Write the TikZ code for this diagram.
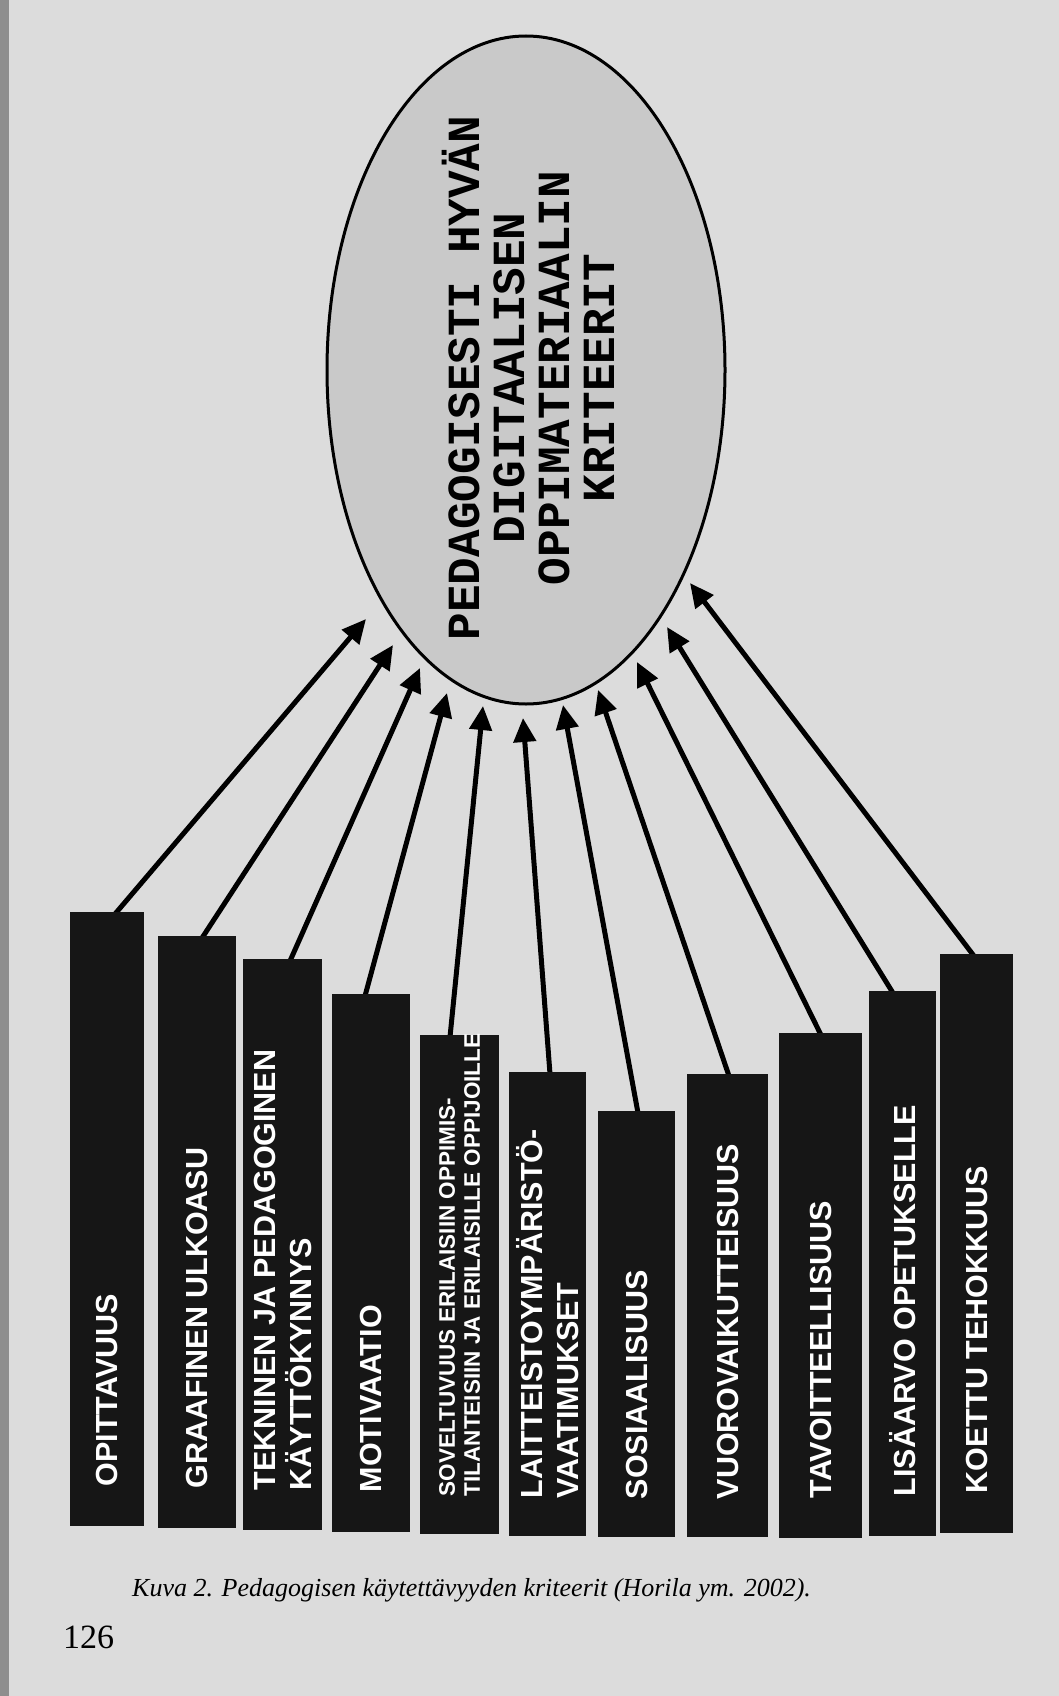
\documentclass[tikz,border=0pt]{standalone}
\usepackage{fontspec}
\setmainfont{Liberation Serif}
\newfontfamily\barfont{Liberation Sans}
\newfontfamily\ellfont{Liberation Mono}
\usetikzlibrary{arrows.meta,shapes.geometric}
\definecolor{pagebg}{HTML}{DCDCDC}
\definecolor{pageedge}{HTML}{8E8E8E}
\definecolor{ellfill}{HTML}{C9C9C9}
\definecolor{barfill}{HTML}{161616}
\tikzset{
  bar/.style={fill=barfill, draw=none, inner sep=0pt, anchor=north west},
  barlabel/.style={rotate=90, anchor=west, inner sep=0pt, text=white,
    font=\barfont\bfseries\fontsize{30.5}{36}\selectfont, align=left},
  smalllabel/.style={barlabel, font=\barfont\bfseries\fontsize{22.5}{25}\selectfont},
  arr/.style={line width=5pt, -{Triangle[length=24pt,width=22pt]}},
  ellbox/.style={ellipse, draw, line width=3pt, fill=ellfill, inner sep=0pt,
    minimum width=398pt, minimum height=668pt},
  elltext/.style={rotate=90, align=center, inner sep=0pt,
    font=\ellfont\bfseries\fontsize{46}{45}\selectfont},
}
\begin{document}
\begin{tikzpicture}[x=1pt,y=-1pt]
\useasboundingbox (0,0) rectangle (1059,1696);
\fill[pagebg] (0,0) rectangle (1059,1696);
\fill[pageedge] (0,0) rectangle (9,1696);

% ellipse
\node[ellbox] (ell) at (526,370) {};
\node[elltext] (ellt) at (528,378) {PEDAGOGISESTI HYVÄN\\DIGITAALISEN\\OPPIMATERIAALIN\\KRITEERIT};

% arrow start and tip coordinates
\coordinate (s1) at (115,914);  \coordinate (t1) at (366,619);
\coordinate (s2) at (202,938);  \coordinate (t2) at (393,645);
\coordinate (s3) at (290,961);  \coordinate (t3) at (420,668);
\coordinate (s4) at (365,996);  \coordinate (t4) at (447,693);
\coordinate (s5) at (450,1037); \coordinate (t5) at (483,706);
\coordinate (s6) at (550,1074); \coordinate (t6) at (523,718);
\coordinate (s7) at (638,1113); \coordinate (t7) at (563,705);
\coordinate (s8) at (729,1076); \coordinate (t8) at (598,690);
\coordinate (s9) at (821,1035); \coordinate (t9) at (637,662);
\coordinate (s10) at (893,993); \coordinate (t10) at (667,627);
\coordinate (s11) at (974,956); \coordinate (t11) at (690,583);

\foreach \i in {1,...,11} { \draw[arr] (s\i) -- (t\i); }

% bars
\node[bar, minimum width=74pt, minimum height=614pt] (b1) at (70,912) {};
\node[bar, minimum width=78pt, minimum height=592pt] (b2) at (158,936) {};
\node[bar, minimum width=79pt, minimum height=571pt] (b3) at (243,959) {};
\node[bar, minimum width=78pt, minimum height=538pt] (b4) at (332,994) {};
\node[bar, minimum width=79pt, minimum height=499pt] (b5) at (420,1035) {};
\node[bar, minimum width=77pt, minimum height=464pt] (b6) at (509,1072) {};
\node[bar, minimum width=77pt, minimum height=426pt] (b7) at (598,1111) {};
\node[bar, minimum width=81pt, minimum height=463pt] (b8) at (687,1074) {};
\node[bar, minimum width=83pt, minimum height=505pt] (b9) at (779,1033) {};
\node[bar, minimum width=67pt, minimum height=545pt] (b10) at (869,991) {};
\node[bar, minimum width=73pt, minimum height=579pt] (b11) at (940,954) {};

% bar labels
\node[barlabel] (l1) at ([yshift=40pt]b1.south) {OPITTAVUUS};
\node[barlabel] (l2) at ([yshift=40pt]b2.south) {GRAAFINEN ULKOASU};
\node[barlabel] (l3) at ([yshift=40pt]b3.south) {TEKNINEN JA PEDAGOGINEN\\KÄYTTÖKYNNYS};
\node[barlabel] (l4) at ([yshift=40pt]b4.south) {MOTIVAATIO};
\node[smalllabel] (l5) at ([yshift=38pt]b5.south) {SOVELTUVUUS ERILAISIIN OPPIMIS-\\TILANTEISIIN JA ERILAISILLE OPPIJOILLE};
\node[barlabel] (l6) at ([yshift=38pt]b6.south) {LAITTEISTOYMPÄRISTÖ-\\VAATIMUKSET};
\node[barlabel] (l7) at ([yshift=38pt]b7.south) {SOSIAALISUUS};
\node[barlabel] (l8) at ([yshift=38pt]b8.south) {VUOROVAIKUTTEISUUS};
\node[barlabel] (l9) at ([yshift=40pt]b9.south) {TAVOITTEELLISUUS};
\node[barlabel] (l10) at ([yshift=40pt]b10.south) {LISÄARVO OPETUKSELLE};
\node[barlabel] (l11) at ([yshift=40pt]b11.south) {KOETTU TEHOKKUUS};

% caption and page number
\node[anchor=west, inner sep=0pt, font=\itshape\fontsize{26}{30}\selectfont] (cap) at (132,1590)
  {Kuva 2. Pedagogisen käytettävyyden kriteerit (Horila ym. 2002).};
\node[anchor=west, inner sep=0pt, font=\fontsize{34}{36}\selectfont] (pg) at (63,1637) {126};
\end{tikzpicture}
\end{document}
